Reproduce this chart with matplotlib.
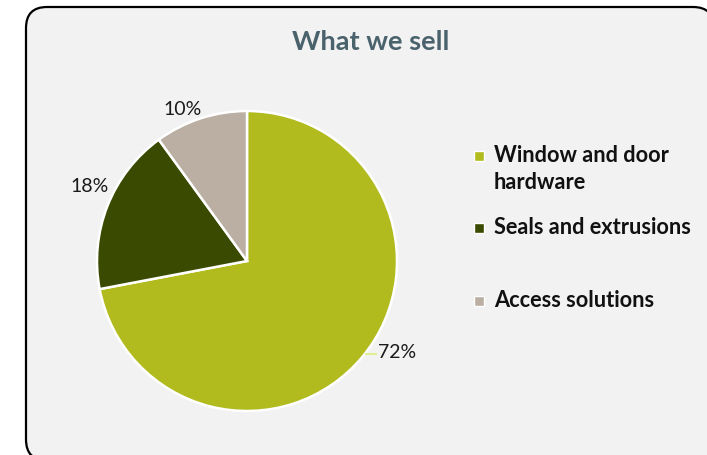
import matplotlib
matplotlib.use("Agg")
import matplotlib.pyplot as plt
from matplotlib.patches import FancyBboxPatch, Rectangle

# Sales mix
categories = ["Window and door\nhardware", "Seals and extrusions", "Access solutions"]
shares = [72, 18, 10]
colors = ["#b1bb1e", "#3a4a00", "#bbafa4"]
pct_labels = ["72%", "18%", "10%"]

FONT = "Lato"
W, H, DPI = 707, 455, 100

fig = plt.figure(figsize=(W / DPI, H / DPI), dpi=DPI, facecolor="white")

# Rounded chart frame (drawn in inches so the corners stay circular)
frame = FancyBboxPatch((0.26, -0.055), 6.88, 4.535,
                       boxstyle="round,pad=0,rounding_size=0.21",
                       transform=fig.dpi_scale_trans,
                       facecolor="#f2f2f2", edgecolor="black", linewidth=1.6,
                       zorder=-5)
fig.patches.append(frame)

def fx(px):
    return px / W

def fy(py):
    return 1 - py / H

fig.text(fx(371), fy(42), "What we sell", ha="center", va="center",
         fontsize=19.5, fontweight="bold", color="#4a626c", family=FONT)

# Pie
cx, cy, r = 247, 261, 150
ax = fig.add_axes([fx(cx - r), fy(cy + r), 2 * r / W, 2 * r / H], zorder=2)
wedges, _ = ax.pie(shares, colors=colors, startangle=90, counterclock=False,
                   radius=1, wedgeprops=dict(edgecolor="white", linewidth=1.8))
ax.set_xlim(-1, 1)
ax.set_ylim(-1, 1)
ax.set_aspect("equal")
ax.axis("off")

# Percentage labels placed just outside each wedge
label_pos = {"72%": (0.873, -0.607, "left"),
             "18%": (-1.047, 0.50, "center"),
             "10%": (-0.427, 1.013, "center")}
for lab in pct_labels:
    x, y, ha = label_pos[lab]
    ax.text(x, y, lab, ha=ha, va="center", fontsize=14, color="#1a1a1a",
            family=FONT, clip_on=False)

# Leader line for the large slice
ax.plot([0.787, 0.868], [-0.62, -0.62], color="#d9ef7a", lw=1.2,
        clip_on=False, solid_capstyle="butt")

# Legend
legend_y = [156, 228, 301]
for col, lab, ly in zip(colors, categories, legend_y):
    fig.patches.append(Rectangle((fx(474), fy(ly + 5)), 10 / W, 10 / H,
                                 transform=fig.transFigure, facecolor=col,
                                 edgecolor="white", linewidth=1.0, zorder=3))
    fig.text(fx(494), fy(ly - 11), lab, ha="left", va="top", fontsize=15.7,
             fontweight="bold", color="#111111", family=FONT, linespacing=1.35)

fig.savefig("out.png", dpi=DPI, facecolor="white")
